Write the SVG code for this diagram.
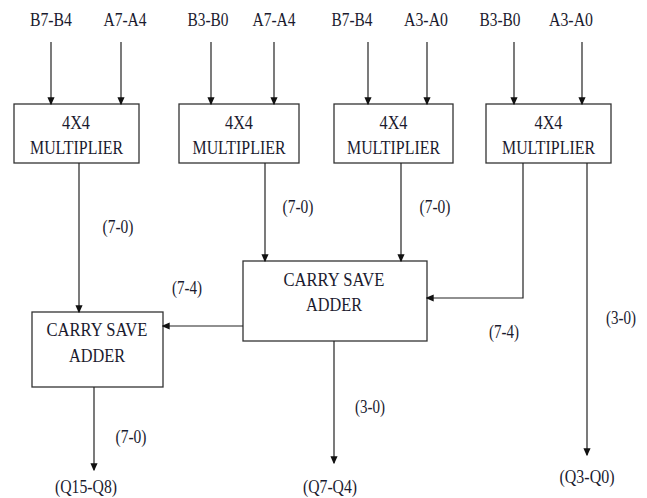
<svg xmlns="http://www.w3.org/2000/svg" width="647" height="498" viewBox="0 0 647 498">
<style>
text{font-family:"Liberation Serif","Times New Roman",serif;fill:#1a1a2e;text-anchor:middle}
.t{font-size:18px}
.b{font-size:19.5px}
.l{font-size:18.5px}
.box{fill:#fff;stroke:#333;stroke-width:1.3}
.c{fill:none;stroke:#222;stroke-width:1.2;marker-end:url(#ah)}
</style>
<defs>
<marker id="ah" markerWidth="8" markerHeight="10" refX="7.5" refY="4" orient="auto" markerUnits="userSpaceOnUse" viewBox="0 0 9 8">
<path d="M0,0 L9,4 L0,8 z" fill="#111"/>
</marker>
</defs>
<rect width="647" height="498" fill="#fff"/>
<g id="inputs" class="t">
<text x="51" y="26" textLength="42" lengthAdjust="spacingAndGlyphs">B7-B4</text>
<text x="125" y="26" textLength="43" lengthAdjust="spacingAndGlyphs">A7-A4</text>
<text x="208" y="26" textLength="41" lengthAdjust="spacingAndGlyphs">B3-B0</text>
<text x="274" y="26" textLength="43" lengthAdjust="spacingAndGlyphs">A7-A4</text>
<text x="352" y="26" textLength="41" lengthAdjust="spacingAndGlyphs">B7-B4</text>
<text x="426" y="26" textLength="44" lengthAdjust="spacingAndGlyphs">A3-A0</text>
<text x="500" y="26" textLength="41" lengthAdjust="spacingAndGlyphs">B3-B0</text>
<text x="571" y="26" textLength="44" lengthAdjust="spacingAndGlyphs">A3-A0</text>
</g>
<g id="mult1" class="b">
<rect class="box" x="14" y="104" width="125" height="59"/>
<text x="76" y="129" textLength="28" lengthAdjust="spacingAndGlyphs">4X4</text>
<text x="76.5" y="154" textLength="93" lengthAdjust="spacingAndGlyphs">MULTIPLIER</text>
</g>
<g id="mult2" class="b">
<rect class="box" x="179" y="104" width="120" height="59"/>
<text x="239" y="129" textLength="28" lengthAdjust="spacingAndGlyphs">4X4</text>
<text x="239" y="154" textLength="93" lengthAdjust="spacingAndGlyphs">MULTIPLIER</text>
</g>
<g id="mult3" class="b">
<rect class="box" x="334" y="104" width="119" height="59"/>
<text x="393.5" y="129" textLength="28" lengthAdjust="spacingAndGlyphs">4X4</text>
<text x="393.5" y="154" textLength="93" lengthAdjust="spacingAndGlyphs">MULTIPLIER</text>
</g>
<g id="mult4" class="b">
<rect class="box" x="486" y="104" width="125" height="59"/>
<text x="548.5" y="129" textLength="28" lengthAdjust="spacingAndGlyphs">4X4</text>
<text x="548.5" y="154" textLength="93" lengthAdjust="spacingAndGlyphs">MULTIPLIER</text>
</g>
<g id="csa1" class="b">
<rect class="box" x="243" y="261" width="184" height="80"/>
<text x="334" y="286" textLength="101" lengthAdjust="spacingAndGlyphs">CARRY SAVE</text>
<text x="334" y="311" textLength="56" lengthAdjust="spacingAndGlyphs">ADDER</text>
</g>
<g id="csa2" class="b">
<rect class="box" x="32" y="312" width="131" height="75"/>
<text x="97" y="336" textLength="101" lengthAdjust="spacingAndGlyphs">CARRY SAVE</text>
<text x="97" y="362" textLength="56" lengthAdjust="spacingAndGlyphs">ADDER</text>
</g>
<g id="connectors">
<path class="c" d="M51,42 V104"/>
<path class="c" d="M121,42 V104"/>
<path class="c" d="M211,42 V104"/>
<path class="c" d="M274,42 V104"/>
<path class="c" d="M368,42 V104"/>
<path class="c" d="M427,42 V104"/>
<path class="c" d="M514,42 V104"/>
<path class="c" d="M582,42 V104"/>
<path class="c" d="M79,163 V312"/>
<path class="c" d="M265,163 V261"/>
<path class="c" d="M401,163 V261"/>
<path class="c" d="M523,163 V298 H427"/>
<path class="c" d="M587,163 V455"/>
<path class="c" d="M243,326 H163"/>
<path class="c" d="M94,387 V470"/>
<path class="c" d="M334,341 V463"/>
</g>
<g id="labels" class="l">
<text x="118" y="233" textLength="31" lengthAdjust="spacingAndGlyphs">(7-0)</text>
<text x="298" y="213" textLength="31" lengthAdjust="spacingAndGlyphs">(7-0)</text>
<text x="435" y="213" textLength="31" lengthAdjust="spacingAndGlyphs">(7-0)</text>
<text x="187" y="294" textLength="30" lengthAdjust="spacingAndGlyphs">(7-4)</text>
<text x="504" y="338" textLength="30" lengthAdjust="spacingAndGlyphs">(7-4)</text>
<text x="621" y="324" textLength="30" lengthAdjust="spacingAndGlyphs">(3-0)</text>
<text x="370" y="413" textLength="30" lengthAdjust="spacingAndGlyphs">(3-0)</text>
<text x="131" y="443" textLength="31" lengthAdjust="spacingAndGlyphs">(7-0)</text>
<text x="86" y="493" textLength="62" lengthAdjust="spacingAndGlyphs">(Q15-Q8)</text>
<text x="330" y="493" textLength="54" lengthAdjust="spacingAndGlyphs">(Q7-Q4)</text>
<text x="587" y="483" textLength="55" lengthAdjust="spacingAndGlyphs">(Q3-Q0)</text>
</g>
</svg>
